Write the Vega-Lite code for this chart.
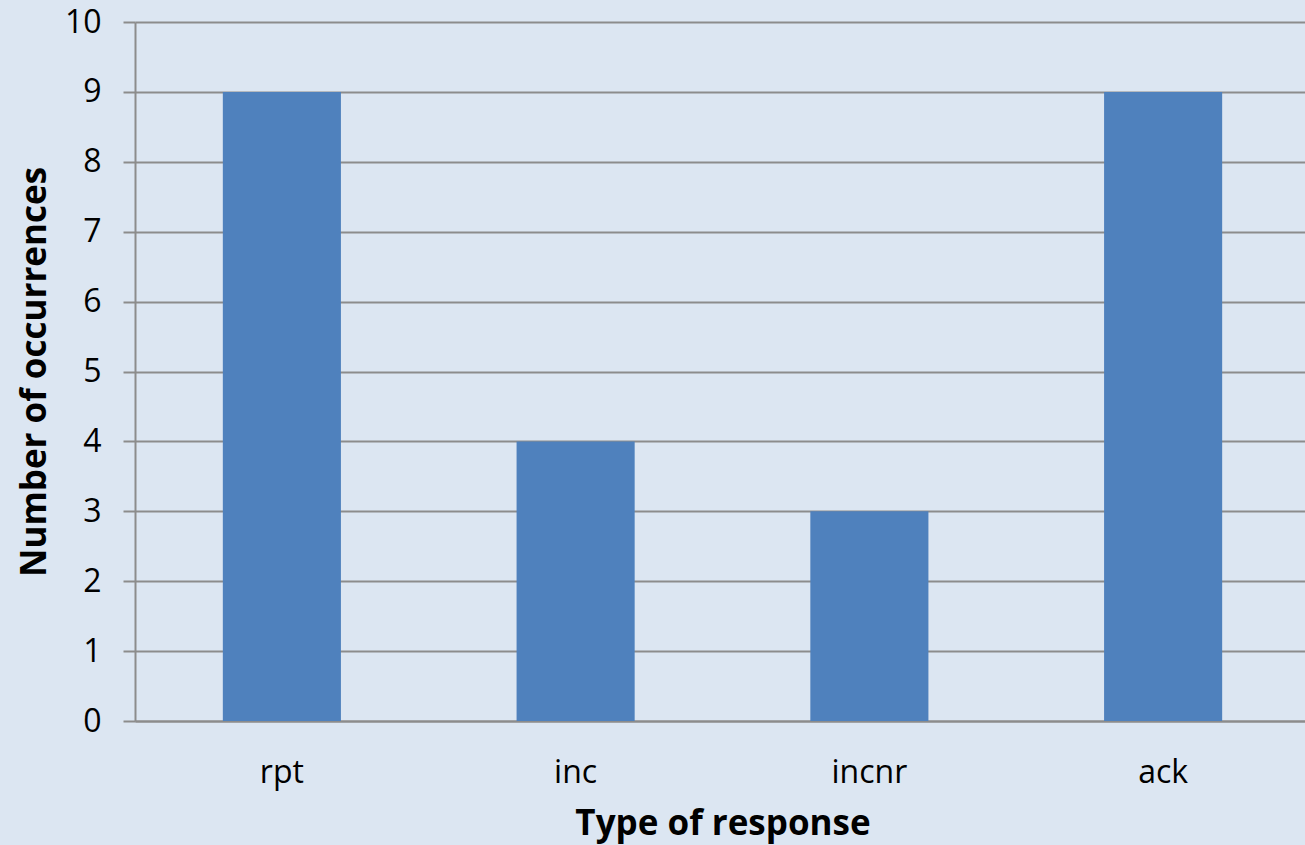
{
  "$schema": "https://vega.github.io/schema/vega-lite/v6.json",
  "autosize": "none",
  "width": 1175,
  "height": 699,
  "padding": {"left": 135, "top": 22, "right": 0, "bottom": 124},
  "background": "#DCE6F2",
  "config": {
    "view": {"stroke": null},
    "font": "Open Sans"
  },
  "data": {
    "values": [
      {"type": "rpt", "count": 9},
      {"type": "inc", "count": 4},
      {"type": "incnr", "count": 3},
      {"type": "ack", "count": 9}
    ]
  },
  "mark": {"type": "bar", "color": "#4F81BD"},
  "encoding": {
    "x": {
      "field": "type",
      "type": "nominal",
      "sort": null,
      "scale": {"paddingInner": 0.598, "paddingOuter": 0.299},
      "axis": {
        "title": "Type of response",
        "titleFont": "Open Sans",
        "titleFontSize": 35,
        "titleFontWeight": "bold",
        "titleColor": "#000000",
        "titlePadding": 18,
        "labelAngle": 0,
        "labelFontSize": 32,
        "labelColor": "#000000",
        "labelPadding": 36,
        "ticks": false,
        "domainColor": "#8C8C8C",
        "domainWidth": 2,
        "grid": false
      }
    },
    "y": {
      "field": "count",
      "type": "quantitative",
      "scale": {"domain": [0, 10], "nice": false},
      "axis": {
        "title": "Number of occurrences",
        "titleFont": "Open Sans",
        "titleFontSize": 35,
        "titleFontWeight": "bold",
        "titleColor": "#000000",
        "titlePadding": 12,
        "values": [0, 1, 2, 3, 4, 5, 6, 7, 8, 9, 10],
        "labelFontSize": 32,
        "labelColor": "#000000",
        "labelPadding": 22,
        "tickSize": 12,
        "tickColor": "#8C8C8C",
        "tickWidth": 2,
        "domainColor": "#8C8C8C",
        "domainWidth": 2,
        "grid": true,
        "gridColor": "#8C8C8C",
        "gridWidth": 2
      }
    }
  }
}
